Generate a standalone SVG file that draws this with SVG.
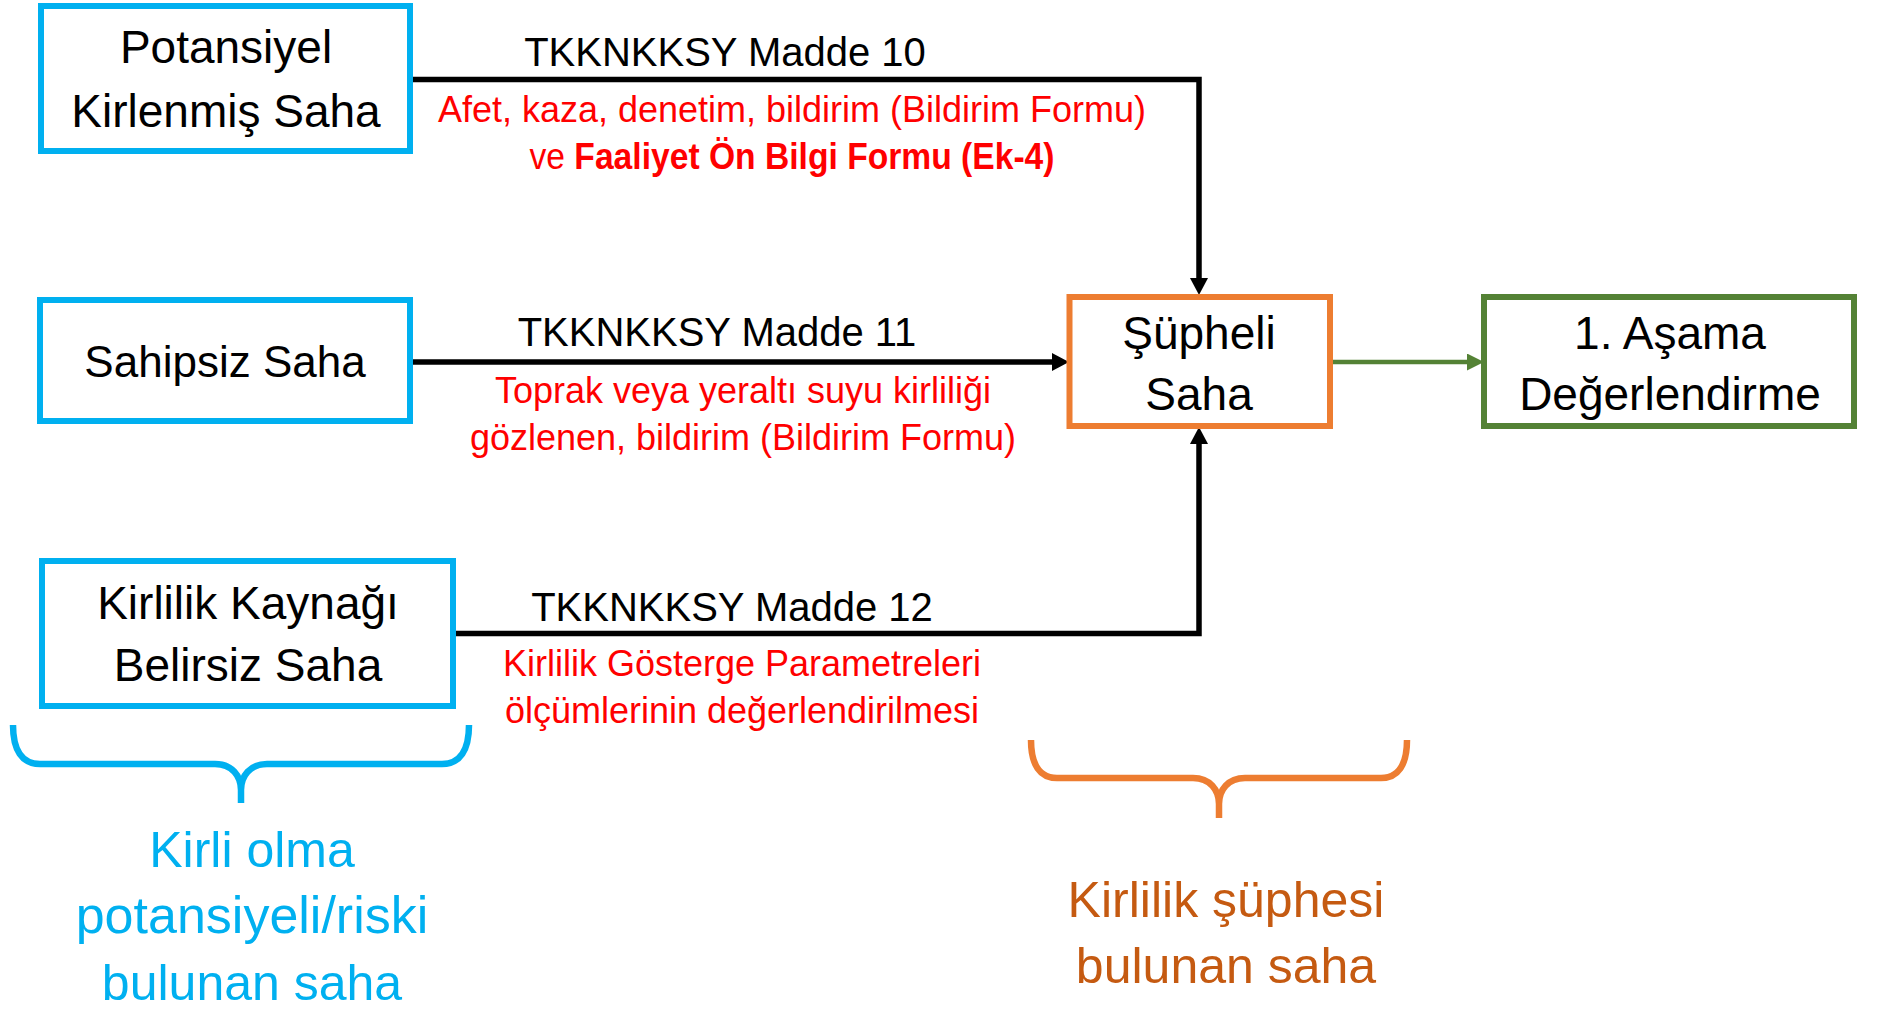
<svg xmlns="http://www.w3.org/2000/svg" width="1878" height="1009" viewBox="0 0 1878 1009">
<defs>
<style>
.box{fill:#FFFFFF;stroke-width:6}
.blue{stroke:#00B0F0}
.orange{stroke:#ED7D31}
.green{stroke:#548235}
.lbl{font-family:"Liberation Sans",Arial,sans-serif;font-size:46px;fill:#000;text-anchor:middle}
.law{font-family:"Liberation Sans",Arial,sans-serif;font-size:40px;fill:#000;text-anchor:middle}
.red{font-family:"Liberation Sans",Arial,sans-serif;font-size:36px;fill:#FF0000;text-anchor:middle}
.big{font-family:"Liberation Sans",Arial,sans-serif;font-size:50px;text-anchor:middle}
.conn{fill:none;stroke:#000;stroke-width:5.5;stroke-linejoin:miter}
.brace{fill:none;stroke-width:6.5;stroke-linecap:butt}
</style>
<marker id="ah" markerUnits="userSpaceOnUse" markerWidth="18" markerHeight="18" refX="0" refY="9" orient="auto">
<path d="M0,0 L17,9 L0,18 Z" fill="#000"/>
</marker>
<marker id="ahg" markerUnits="userSpaceOnUse" markerWidth="18" markerHeight="18" refX="0" refY="8.5" orient="auto">
<path d="M0,0 L17,8.5 L0,17 Z" fill="#548235"/>
</marker>
</defs>
<rect width="1878" height="1009" fill="#FFFFFF"/>

<g id="connectors">
<path class="conn" d="M413,79.5 H1199 V278" marker-end="url(#ah)"/>
<path class="conn" d="M413,362 H1052" marker-end="url(#ah)"/>
<path class="conn" d="M456,633.5 H1199 V444" marker-end="url(#ah)"/>
<path fill="none" stroke="#548235" stroke-width="4.5" d="M1331,362 H1467" marker-end="url(#ahg)"/>
</g>

<g id="label-madde10">
<text class="law" x="725" y="66">TKKNKKSY Madde 10</text>
<text class="red" x="792" y="122">Afet, kaza, denetim, bildirim (Bildirim Formu)</text>
<text class="red" x="792" y="169" textLength="525" lengthAdjust="spacingAndGlyphs">ve <tspan font-weight="bold">Faaliyet Ön Bilgi Formu (Ek-4)</tspan></text>
</g>
<g id="label-madde11">
<text class="law" x="717" y="346">TKKNKKSY Madde 11</text>
<text class="red" x="743" y="403">Toprak veya yeraltı suyu kirliliği</text>
<text class="red" x="743" y="450">gözlenen, bildirim (Bildirim Formu)</text>
</g>
<g id="label-madde12">
<text class="law" x="732" y="621">TKKNKKSY Madde 12</text>
<text class="red" x="742" y="676">Kirlilik Gösterge Parametreleri</text>
<text class="red" x="742" y="723">ölçümlerinin değerlendirilmesi</text>
</g>

<g id="node-potansiyel">
<rect class="box blue" x="41" y="6" width="369" height="145"/>
<text class="lbl" x="226" y="63">Potansiyel</text>
<text class="lbl" x="226" y="127">Kirlenmiş Saha</text>
</g>
<g id="node-sahipsiz">
<rect class="box blue" x="40" y="300" width="370" height="121"/>
<text class="lbl" x="225" y="377" style="font-size:44px">Sahipsiz Saha</text>
</g>
<g id="node-belirsiz">
<rect class="box blue" x="42" y="561" width="411" height="145"/>
<text class="lbl" x="248" y="619">Kirlilik Kaynağı</text>
<text class="lbl" x="248" y="681">Belirsiz Saha</text>
</g>
<g id="node-supheli">
<rect class="box orange" x="1069.5" y="297" width="260.5" height="129"/>
<text class="lbl" x="1199" y="349">Şüpheli</text>
<text class="lbl" x="1199" y="410">Saha</text>
</g>
<g id="node-asama">
<rect class="box green" x="1484" y="297" width="370" height="129"/>
<text class="lbl" x="1670" y="349">1. Aşama</text>
<text class="lbl" x="1670" y="410">Değerlendirme</text>
</g>

<g id="brace-potansiyel">
<path class="brace" stroke="#00B0F0" d="M13,725 C13,750 22,764 40,764 H215 C232,764 241,776 241,790 V803 M241,790 C241,776 250,764 267,764 H442 C460,764 469,750 469,725"/>
<text class="big" fill="#00B0F0" x="252" y="867">Kirli olma</text>
<text class="big" fill="#00B0F0" x="252" y="933" style="font-size:52px">potansiyeli/riski</text>
<text class="big" fill="#00B0F0" x="252" y="1000">bulunan saha</text>
</g>
<g id="brace-supheli">
<path class="brace" stroke="#ED7D31" d="M1031,740 C1031,765 1040,778 1057,778 H1193 C1210,778 1219,790 1219,804 V818 M1219,804 C1219,790 1228,778 1245,778 H1381 C1398,778 1407,765 1407,740"/>
<text class="big" fill="#C55A11" x="1226" y="917">Kirlilik şüphesi</text>
<text class="big" fill="#C55A11" x="1226" y="983">bulunan saha</text>
</g>
</svg>
